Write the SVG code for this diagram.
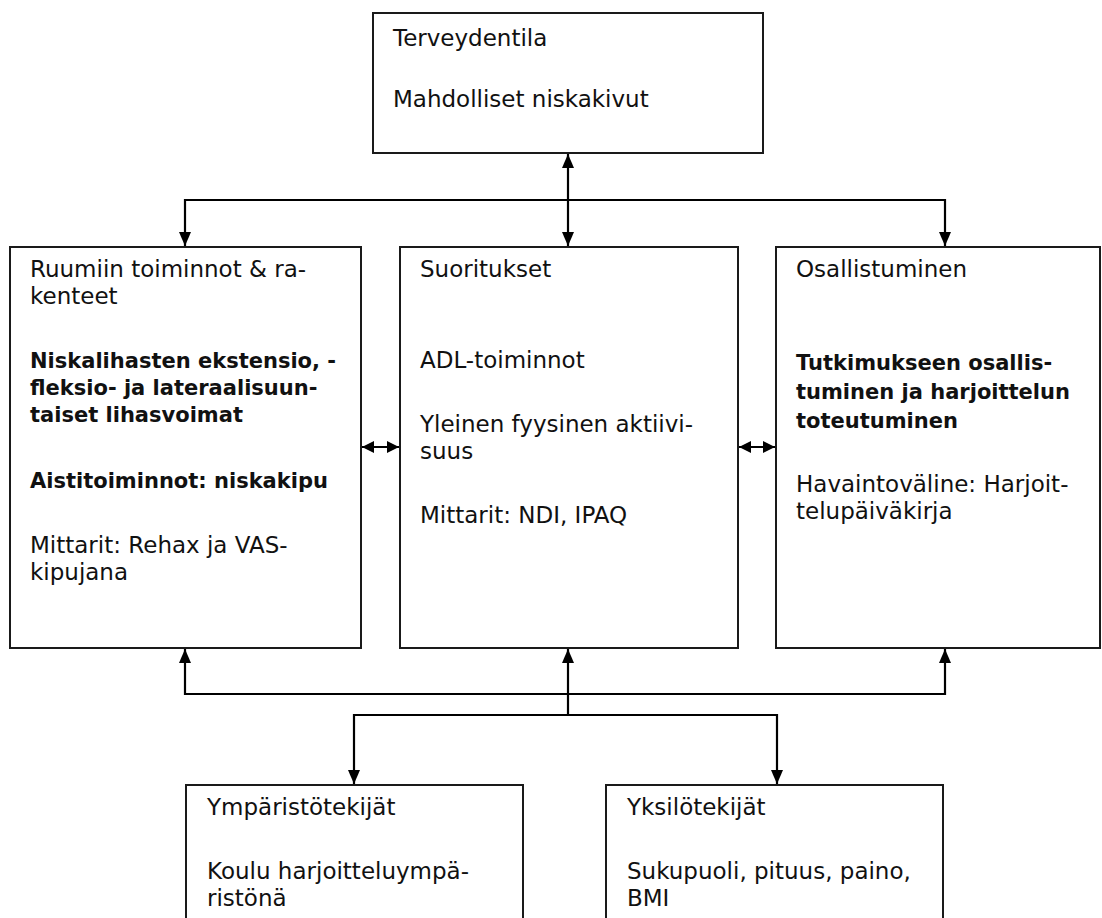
<svg xmlns="http://www.w3.org/2000/svg" width="1102" height="918" viewBox="0 0 1102 918">
<style>
.box{fill:#fff;stroke:#1a1a1a;stroke-width:2}
.t{font-family:"DejaVu Sans",Verdana,sans-serif;font-size:23px;fill:#111}
.b{font-family:"DejaVu Sans",Verdana,sans-serif;font-size:21px;font-weight:bold;fill:#111}
.c{fill:none;stroke:#000;stroke-width:2.2}
</style>
<defs>
<marker id="ah" viewBox="0 0 14 12" refX="14" refY="6" markerWidth="14" markerHeight="12" markerUnits="userSpaceOnUse" orient="auto-start-reverse">
<path d="M0,0 L14,6 L0,12 Z" fill="#000"/>
</marker>
<marker id="ahs" viewBox="0 0 12 12" refX="12" refY="6" markerWidth="12" markerHeight="12" markerUnits="userSpaceOnUse" orient="auto-start-reverse">
<path d="M0,0 L12,6 L0,12 Z" fill="#000"/>
</marker>
</defs>
<rect width="1102" height="918" fill="#fff"/>
<g id="connectors">
<line class="c" x1="568" y1="154" x2="568" y2="246" marker-start="url(#ah)" marker-end="url(#ah)"/>
<polyline class="c" points="185,246 185,200 945,200 945,246" marker-start="url(#ah)" marker-end="url(#ah)"/>
<line class="c" x1="362" y1="447" x2="399" y2="447" marker-start="url(#ahs)" marker-end="url(#ahs)"/>
<line class="c" x1="739" y1="447" x2="775" y2="447" marker-start="url(#ahs)" marker-end="url(#ahs)"/>
<polyline class="c" points="185,649 185,694 945,694 945,649" marker-start="url(#ah)" marker-end="url(#ah)"/>
<line class="c" x1="568" y1="715" x2="568" y2="649" marker-end="url(#ah)"/>
<polyline class="c" points="354,784 354,715 777,715 777,784" marker-start="url(#ah)" marker-end="url(#ah)"/>
</g>
<g id="terveydentila">
<rect class="box" x="373" y="13" width="390" height="140"/>
<text class="t" x="393" y="46">Terveydentila</text>
<text class="t" x="393" y="107">Mahdolliset niskakivut</text>
</g>
<g id="ruumiin">
<rect class="box" x="10" y="247" width="351" height="401"/>
<text class="t" x="30" y="277">Ruumiin toiminnot &amp; ra-</text>
<text class="t" x="30" y="304">kenteet</text>
<text class="b" x="30" y="368">Niskalihasten ekstensio, -</text>
<text class="b" x="30" y="395">fleksio- ja lateraalisuun-</text>
<text class="b" x="30" y="422">taiset lihasvoimat</text>
<text class="b" x="30" y="488">Aistitoiminnot: niskakipu</text>
<text class="t" x="30" y="553">Mittarit: Rehax ja VAS-</text>
<text class="t" x="30" y="580">kipujana</text>
</g>
<g id="suoritukset">
<rect class="box" x="400" y="247" width="338" height="401"/>
<text class="t" x="420" y="277">Suoritukset</text>
<text class="t" x="420" y="368">ADL-toiminnot</text>
<text class="t" x="420" y="432">Yleinen fyysinen aktiivi-</text>
<text class="t" x="420" y="459">suus</text>
<text class="t" x="420" y="523">Mittarit: NDI, IPAQ</text>
</g>
<g id="osallistuminen">
<rect class="box" x="776" y="247" width="324" height="401"/>
<text class="t" x="796" y="277">Osallistuminen</text>
<text class="b" x="796" y="370">Tutkimukseen osallis-</text>
<text class="b" x="796" y="399">tuminen ja harjoittelun</text>
<text class="b" x="796" y="428">toteutuminen</text>
<text class="t" x="796" y="492">Havaintoväline: Harjoit-</text>
<text class="t" x="796" y="519">telupäiväkirja</text>
</g>
<g id="ymparisto">
<rect class="box" x="186" y="785" width="337" height="200"/>
<text class="t" x="207" y="815">Ympäristötekijät</text>
<text class="t" x="207" y="879">Koulu harjoitteluympä-</text>
<text class="t" x="207" y="906">ristönä</text>
</g>
<g id="yksilo">
<rect class="box" x="606" y="785" width="337" height="200"/>
<text class="t" x="627" y="815">Yksilötekijät</text>
<text class="t" x="627" y="879">Sukupuoli, pituus, paino,</text>
<text class="t" x="627" y="906">BMI</text>
</g>
</svg>
